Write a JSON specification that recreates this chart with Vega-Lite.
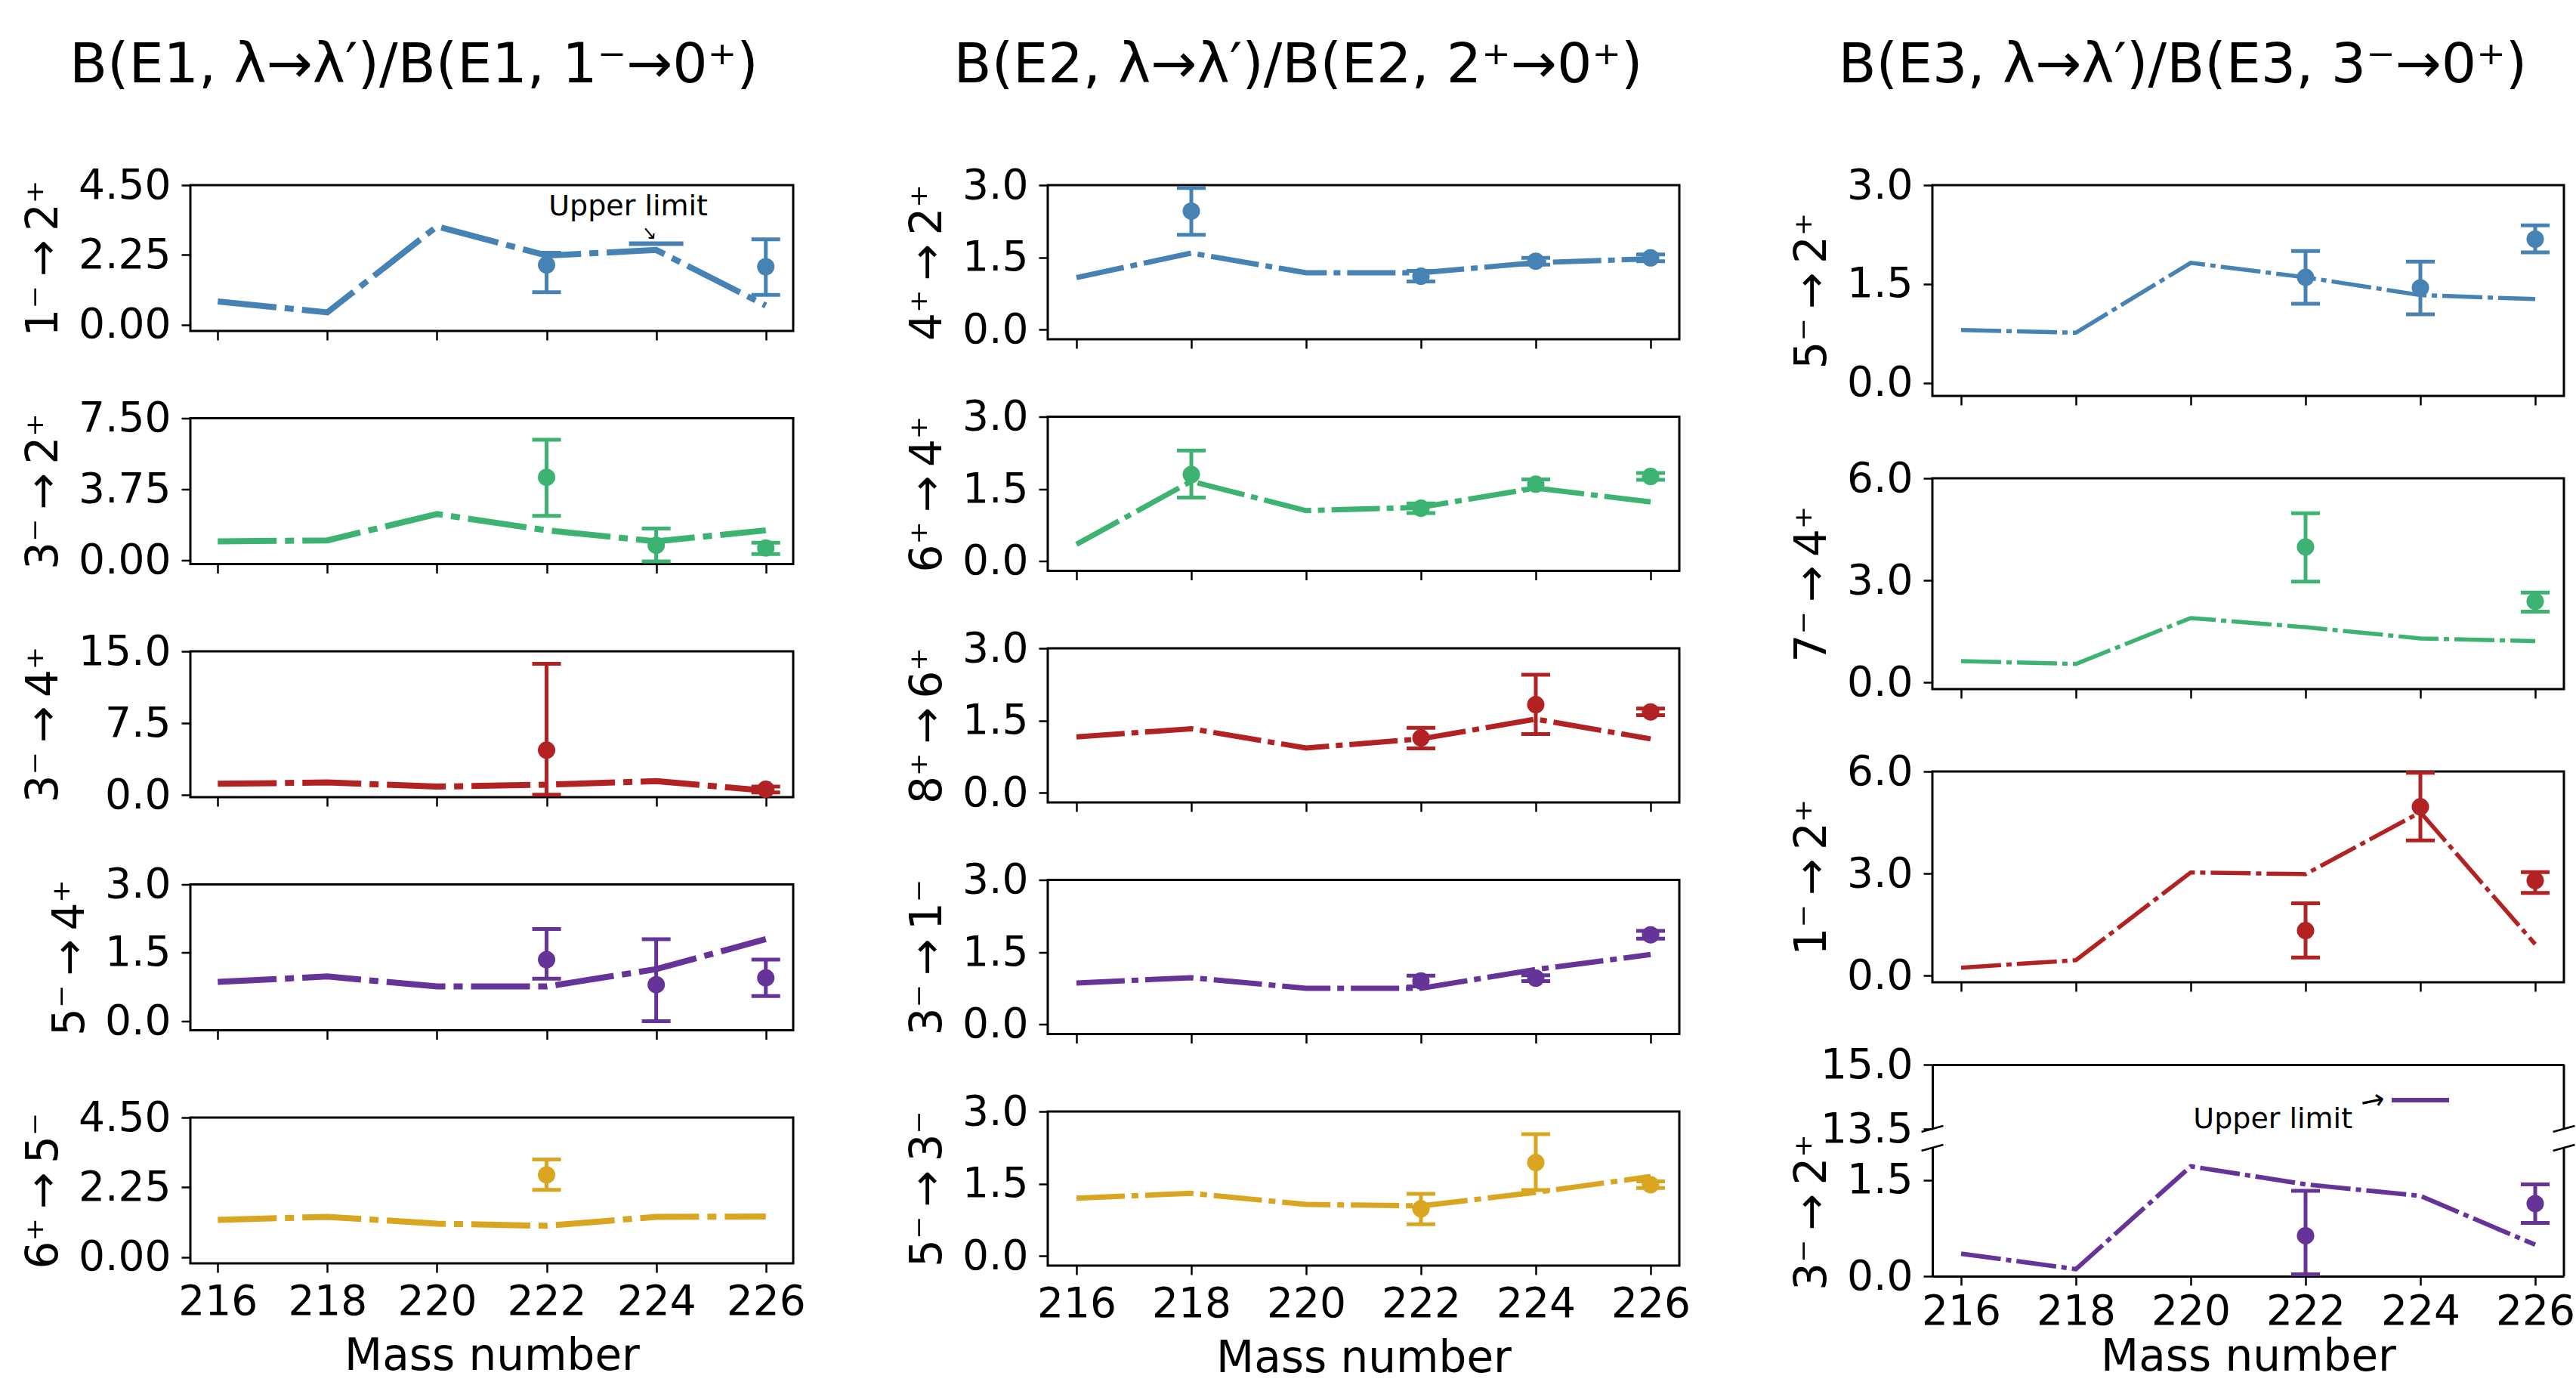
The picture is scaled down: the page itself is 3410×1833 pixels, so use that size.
{
"$schema":"https://vega.github.io/schema/vega-lite/v6.json",
"background":"white",
"padding":{"left":28,"top":50,"right":5,"bottom":0},
"datasets":{
"th":[
{"p":"E1a","A":216,"B":0.75},{"p":"E1a","A":218,"B":0.40},{"p":"E1a","A":220,"B":3.17},{"p":"E1a","A":222,"B":2.23},{"p":"E1a","A":224,"B":2.41},{"p":"E1a","A":226,"B":0.62},
{"p":"E1b","A":216,"B":1.00},{"p":"E1b","A":218,"B":1.05},{"p":"E1b","A":220,"B":2.44},{"p":"E1b","A":222,"B":1.58},{"p":"E1b","A":224,"B":1.00},{"p":"E1b","A":226,"B":1.58},
{"p":"E1c","A":216,"B":1.19},{"p":"E1c","A":218,"B":1.33},{"p":"E1c","A":220,"B":0.90},{"p":"E1c","A":222,"B":1.10},{"p":"E1c","A":224,"B":1.47},{"p":"E1c","A":226,"B":0.48},
{"p":"E1d","A":216,"B":0.86},{"p":"E1d","A":218,"B":0.98},{"p":"E1d","A":220,"B":0.76},{"p":"E1d","A":222,"B":0.76},{"p":"E1d","A":224,"B":1.14},{"p":"E1d","A":226,"B":1.80},
{"p":"E1e","A":216,"B":1.20},{"p":"E1e","A":218,"B":1.30},{"p":"E1e","A":220,"B":1.08},{"p":"E1e","A":222,"B":1.01},{"p":"E1e","A":224,"B":1.30},{"p":"E1e","A":226,"B":1.31},
{"p":"E2a","A":216,"B":1.08},{"p":"E2a","A":218,"B":1.59},{"p":"E2a","A":220,"B":1.18},{"p":"E2a","A":222,"B":1.18},{"p":"E2a","A":224,"B":1.39},{"p":"E2a","A":226,"B":1.47},
{"p":"E2b","A":216,"B":0.35},{"p":"E2b","A":218,"B":1.66},{"p":"E2b","A":220,"B":1.05},{"p":"E2b","A":222,"B":1.12},{"p":"E2b","A":224,"B":1.52},{"p":"E2b","A":226,"B":1.23},
{"p":"E2c","A":216,"B":1.16},{"p":"E2c","A":218,"B":1.33},{"p":"E2c","A":220,"B":0.93},{"p":"E2c","A":222,"B":1.12},{"p":"E2c","A":224,"B":1.53},{"p":"E2c","A":226,"B":1.12},
{"p":"E2d","A":216,"B":0.86},{"p":"E2d","A":218,"B":0.97},{"p":"E2d","A":220,"B":0.75},{"p":"E2d","A":222,"B":0.75},{"p":"E2d","A":224,"B":1.14},{"p":"E2d","A":226,"B":1.45},
{"p":"E2e","A":216,"B":1.20},{"p":"E2e","A":218,"B":1.30},{"p":"E2e","A":220,"B":1.07},{"p":"E2e","A":222,"B":1.04},{"p":"E2e","A":224,"B":1.32},{"p":"E2e","A":226,"B":1.65},
{"p":"E3a","A":216,"B":0.80},{"p":"E3a","A":218,"B":0.76},{"p":"E3a","A":220,"B":1.82},{"p":"E3a","A":222,"B":1.60},{"p":"E3a","A":224,"B":1.33},{"p":"E3a","A":226,"B":1.27},
{"p":"E3b","A":216,"B":0.62},{"p":"E3b","A":218,"B":0.54},{"p":"E3b","A":220,"B":1.89},{"p":"E3b","A":222,"B":1.62},{"p":"E3b","A":224,"B":1.29},{"p":"E3b","A":226,"B":1.21},
{"p":"E3c","A":216,"B":0.23},{"p":"E3c","A":218,"B":0.45},{"p":"E3c","A":220,"B":3.03},{"p":"E3c","A":222,"B":2.98},{"p":"E3c","A":224,"B":4.80},{"p":"E3c","A":226,"B":0.92},
{"p":"E3d","A":216,"B":0.35},{"p":"E3d","A":218,"B":0.11},{"p":"E3d","A":220,"B":1.71},{"p":"E3d","A":222,"B":1.43},{"p":"E3d","A":224,"B":1.25},{"p":"E3d","A":226,"B":0.49}
],
"ex":[
{"p":"E1a","A":222,"B":1.93,"lo":1.05,"hi":2.32},{"p":"E1a","A":226,"B":1.87,"lo":0.96,"hi":2.75},
{"p":"E1b","A":222,"B":4.38,"lo":2.34,"hi":6.36},{"p":"E1b","A":224,"B":0.79,"lo":-0.06,"hi":1.68},{"p":"E1b","A":226,"B":0.65,"lo":0.33,"hi":0.93},
{"p":"E1c","A":222,"B":4.7,"lo":0.06,"hi":13.7},{"p":"E1c","A":226,"B":0.62,"lo":0.3,"hi":0.9},
{"p":"E1d","A":222,"B":1.35,"lo":0.93,"hi":2.02},{"p":"E1d","A":224,"B":0.80,"lo":0.0,"hi":1.80},{"p":"E1d","A":226,"B":0.95,"lo":0.55,"hi":1.35},
{"p":"E1e","A":222,"B":2.65,"lo":2.17,"hi":3.15},
{"p":"E2a","A":218,"B":2.46,"lo":1.97,"hi":2.94},{"p":"E2a","A":222,"B":1.11,"lo":1.0,"hi":1.22},{"p":"E2a","A":224,"B":1.42,"lo":1.35,"hi":1.49},{"p":"E2a","A":226,"B":1.49,"lo":1.42,"hi":1.56},
{"p":"E2b","A":218,"B":1.80,"lo":1.32,"hi":2.30},{"p":"E2b","A":222,"B":1.10,"lo":1.0,"hi":1.2},{"p":"E2b","A":224,"B":1.60,"lo":1.5,"hi":1.7},{"p":"E2b","A":226,"B":1.76,"lo":1.69,"hi":1.83},
{"p":"E2c","A":222,"B":1.14,"lo":0.92,"hi":1.35},{"p":"E2c","A":224,"B":1.83,"lo":1.22,"hi":2.45},{"p":"E2c","A":226,"B":1.68,"lo":1.61,"hi":1.75},
{"p":"E2d","A":222,"B":0.90,"lo":0.79,"hi":1.01},{"p":"E2d","A":224,"B":0.96,"lo":0.9,"hi":1.02},{"p":"E2d","A":226,"B":1.86,"lo":1.78,"hi":1.94},
{"p":"E2e","A":222,"B":0.98,"lo":0.66,"hi":1.29},{"p":"E2e","A":224,"B":1.94,"lo":1.37,"hi":2.53},{"p":"E2e","A":226,"B":1.48,"lo":1.41,"hi":1.55},
{"p":"E3a","A":222,"B":1.60,"lo":1.20,"hi":2.00},{"p":"E3a","A":224,"B":1.44,"lo":1.04,"hi":1.84},{"p":"E3a","A":226,"B":2.18,"lo":1.98,"hi":2.39},
{"p":"E3b","A":222,"B":3.98,"lo":2.96,"hi":4.97},{"p":"E3b","A":226,"B":2.38,"lo":2.08,"hi":2.64},
{"p":"E3c","A":222,"B":1.32,"lo":0.53,"hi":2.12},{"p":"E3c","A":224,"B":4.96,"lo":3.97,"hi":5.96},{"p":"E3c","A":226,"B":2.79,"lo":2.43,"hi":3.04},
{"p":"E3d","A":222,"B":0.63,"lo":0.03,"hi":1.33},{"p":"E3d","A":226,"B":1.13,"lo":0.83,"hi":1.43}
],
"ul":[{"p":"E1a","A":224,"B":2.61},{"p":"E3d","A":224,"B":14.17}]
},
"config":{
"font":"DejaVu Sans",
"view":{"stroke":"black","strokeWidth":3},
"axis":{"grid":false,"domain":false,"tickColor":"black","tickWidth":2.5,"tickSize":12,"labelFont":"DejaVu Sans","labelFontSize":55,"labelColor":"black","labelFlush":false,"labelOverlap":false,"titleFont":"DejaVu Sans","titleFontSize":58,"titleFontWeight":"normal","titleColor":"black"},
"axisX":{"labelPadding":12,"titlePadding":16},
"axisY":{"labelPadding":14,"titlePadding":16},
"title":{"font":"DejaVu Sans","fontSize":73,"fontWeight":"normal","color":"black","anchor":"middle","offset":93,"baseline":"bottom"}
},
"spacing":130,
"hconcat":[
{"title":{"text":"B(E1, λ→λ′)/B(E1, 1⁻→0⁺)"},"spacing":115.5,"bounds":"flush","vconcat":[
{"width":798,"height":193,
"layer":[
{"data":{"name":"th"},"transform":[{"filter":"datum.p=='E1a'"}],"mark":{"type":"line","color":"#4682b4","strokeWidth":8,"strokeDash":[78,11,12,11]},
"encoding":{"x":{"field":"A","type":"quantitative","scale":{"domain":[215.5,226.5],"nice":false},"axis":{"values":[216,218,220,222,224,226],"labels":false,"title":null}},"y":{"field":"B","type":"quantitative","scale":{"domain":[-0.2,4.5],"nice":false,"zero":false},"axis":{"values":[0,2.25,4.5],"format":".2f","title":"1⁻\u2009→\u20092⁺"}}}},
{"data":{"name":"ex"},"transform":[{"filter":"datum.p=='E1a'"}],"mark":{"type":"rule","color":"#4682b4","strokeWidth":5},
"encoding":{"x":{"field":"A","type":"quantitative","scale":{"domain":[215.5,226.5],"nice":false},"axis":{"values":[216,218,220,222,224,226],"labels":false,"title":null}},"y":{"field":"lo","type":"quantitative","scale":{"domain":[-0.2,4.5],"nice":false,"zero":false},"axis":{"values":[0,2.25,4.5],"format":".2f","title":"1⁻\u2009→\u20092⁺"}},"y2":{"field":"hi"}}},
{"data":{"name":"ex"},"transform":[{"filter":"datum.p=='E1a'"},{"fold":["lo","hi"],"as":["k","v"]}],"mark":{"type":"tick","orient":"horizontal","color":"#4682b4","size":38,"thickness":5,"opacity":1},
"encoding":{"x":{"field":"A","type":"quantitative","scale":{"domain":[215.5,226.5],"nice":false},"axis":{"values":[216,218,220,222,224,226],"labels":false,"title":null}},"y":{"field":"v","type":"quantitative","scale":{"domain":[-0.2,4.5],"nice":false,"zero":false},"axis":{"values":[0,2.25,4.5],"format":".2f","title":"1⁻\u2009→\u20092⁺"}}}},
{"data":{"name":"ex"},"transform":[{"filter":"datum.p=='E1a'"}],"mark":{"type":"point","shape":"circle","filled":true,"size":530,"color":"#4682b4","opacity":1},
"encoding":{"x":{"field":"A","type":"quantitative","scale":{"domain":[215.5,226.5],"nice":false},"axis":{"values":[216,218,220,222,224,226],"labels":false,"title":null}},"y":{"field":"B","type":"quantitative","scale":{"domain":[-0.2,4.5],"nice":false,"zero":false},"axis":{"values":[0,2.25,4.5],"format":".2f","title":"1⁻\u2009→\u20092⁺"}}}},
{"data":{"name":"ul"},"transform":[{"filter":"datum.p=='E1a'"}],"mark":{"type":"tick","orient":"horizontal","color":"#4682b4","size":72,"thickness":6,"opacity":1},
"encoding":{"x":{"field":"A","type":"quantitative","scale":{"domain":[215.5,226.5],"nice":false},"axis":{"values":[216,218,220,222,224,226],"labels":false,"title":null}},"y":{"field":"B","type":"quantitative","scale":{"domain":[-0.2,4.5],"nice":false,"zero":false},"axis":{"values":[0,2.25,4.5],"format":".2f","title":"1⁻\u2009→\u20092⁺"}}}},
{"data":{"values":[{}]},"mark":{"type":"text","text":"Upper limit","fontSize":38,"color":"black"},
"encoding":{"x":{"datum":223.49,"type":"quantitative","scale":{"domain":[215.5,226.5],"nice":false},"axis":{"values":[216,218,220,222,224,226],"labels":false,"title":null}},"y":{"datum":3.79,"type":"quantitative","scale":{"domain":[-0.2,4.5],"nice":false,"zero":false},"axis":{"values":[0,2.25,4.5],"format":".2f","title":"1⁻\u2009→\u20092⁺"}}}},
{"data":{"values":[{}]},"mark":{"type":"text","text":"→","fontSize":24,"angle":50,"color":"black"},
"encoding":{"x":{"datum":223.87,"type":"quantitative","scale":{"domain":[215.5,226.5],"nice":false},"axis":{"values":[216,218,220,222,224,226],"labels":false,"title":null}},"y":{"datum":2.93,"type":"quantitative","scale":{"domain":[-0.2,4.5],"nice":false,"zero":false},"axis":{"values":[0,2.25,4.5],"format":".2f","title":"1⁻\u2009→\u20092⁺"}}}}
]},
{"width":798,"height":193,
"layer":[
{"data":{"name":"th"},"transform":[{"filter":"datum.p=='E1b'"}],"mark":{"type":"line","color":"#3cb371","strokeWidth":8,"strokeDash":[78,11,12,11]},
"encoding":{"x":{"field":"A","type":"quantitative","scale":{"domain":[215.5,226.5],"nice":false},"axis":{"values":[216,218,220,222,224,226],"labels":false,"title":null}},"y":{"field":"B","type":"quantitative","scale":{"domain":[-0.2,7.5],"nice":false,"zero":false},"axis":{"values":[0,3.75,7.5],"format":".2f","title":"3⁻\u2009→\u20092⁺"}}}},
{"data":{"name":"ex"},"transform":[{"filter":"datum.p=='E1b'"}],"mark":{"type":"rule","color":"#3cb371","strokeWidth":5},
"encoding":{"x":{"field":"A","type":"quantitative","scale":{"domain":[215.5,226.5],"nice":false},"axis":{"values":[216,218,220,222,224,226],"labels":false,"title":null}},"y":{"field":"lo","type":"quantitative","scale":{"domain":[-0.2,7.5],"nice":false,"zero":false},"axis":{"values":[0,3.75,7.5],"format":".2f","title":"3⁻\u2009→\u20092⁺"}},"y2":{"field":"hi"}}},
{"data":{"name":"ex"},"transform":[{"filter":"datum.p=='E1b'"},{"fold":["lo","hi"],"as":["k","v"]}],"mark":{"type":"tick","orient":"horizontal","color":"#3cb371","size":38,"thickness":5,"opacity":1},
"encoding":{"x":{"field":"A","type":"quantitative","scale":{"domain":[215.5,226.5],"nice":false},"axis":{"values":[216,218,220,222,224,226],"labels":false,"title":null}},"y":{"field":"v","type":"quantitative","scale":{"domain":[-0.2,7.5],"nice":false,"zero":false},"axis":{"values":[0,3.75,7.5],"format":".2f","title":"3⁻\u2009→\u20092⁺"}}}},
{"data":{"name":"ex"},"transform":[{"filter":"datum.p=='E1b'"}],"mark":{"type":"point","shape":"circle","filled":true,"size":530,"color":"#3cb371","opacity":1},
"encoding":{"x":{"field":"A","type":"quantitative","scale":{"domain":[215.5,226.5],"nice":false},"axis":{"values":[216,218,220,222,224,226],"labels":false,"title":null}},"y":{"field":"B","type":"quantitative","scale":{"domain":[-0.2,7.5],"nice":false,"zero":false},"axis":{"values":[0,3.75,7.5],"format":".2f","title":"3⁻\u2009→\u20092⁺"}}}}
]},
{"width":798,"height":193,
"layer":[
{"data":{"name":"th"},"transform":[{"filter":"datum.p=='E1c'"}],"mark":{"type":"line","color":"#b22222","strokeWidth":8,"strokeDash":[78,11,12,11]},
"encoding":{"x":{"field":"A","type":"quantitative","scale":{"domain":[215.5,226.5],"nice":false},"axis":{"values":[216,218,220,222,224,226],"labels":false,"title":null}},"y":{"field":"B","type":"quantitative","scale":{"domain":[-0.2,15],"nice":false,"zero":false},"axis":{"values":[0,7.5,15],"format":".1f","title":"3⁻\u2009→\u20094⁺"}}}},
{"data":{"name":"ex"},"transform":[{"filter":"datum.p=='E1c'"}],"mark":{"type":"rule","color":"#b22222","strokeWidth":5},
"encoding":{"x":{"field":"A","type":"quantitative","scale":{"domain":[215.5,226.5],"nice":false},"axis":{"values":[216,218,220,222,224,226],"labels":false,"title":null}},"y":{"field":"lo","type":"quantitative","scale":{"domain":[-0.2,15],"nice":false,"zero":false},"axis":{"values":[0,7.5,15],"format":".1f","title":"3⁻\u2009→\u20094⁺"}},"y2":{"field":"hi"}}},
{"data":{"name":"ex"},"transform":[{"filter":"datum.p=='E1c'"},{"fold":["lo","hi"],"as":["k","v"]}],"mark":{"type":"tick","orient":"horizontal","color":"#b22222","size":38,"thickness":5,"opacity":1},
"encoding":{"x":{"field":"A","type":"quantitative","scale":{"domain":[215.5,226.5],"nice":false},"axis":{"values":[216,218,220,222,224,226],"labels":false,"title":null}},"y":{"field":"v","type":"quantitative","scale":{"domain":[-0.2,15],"nice":false,"zero":false},"axis":{"values":[0,7.5,15],"format":".1f","title":"3⁻\u2009→\u20094⁺"}}}},
{"data":{"name":"ex"},"transform":[{"filter":"datum.p=='E1c'"}],"mark":{"type":"point","shape":"circle","filled":true,"size":530,"color":"#b22222","opacity":1},
"encoding":{"x":{"field":"A","type":"quantitative","scale":{"domain":[215.5,226.5],"nice":false},"axis":{"values":[216,218,220,222,224,226],"labels":false,"title":null}},"y":{"field":"B","type":"quantitative","scale":{"domain":[-0.2,15],"nice":false,"zero":false},"axis":{"values":[0,7.5,15],"format":".1f","title":"3⁻\u2009→\u20094⁺"}}}}
]},
{"width":798,"height":193,
"layer":[
{"data":{"name":"th"},"transform":[{"filter":"datum.p=='E1d'"}],"mark":{"type":"line","color":"#663399","strokeWidth":8,"strokeDash":[78,11,12,11]},
"encoding":{"x":{"field":"A","type":"quantitative","scale":{"domain":[215.5,226.5],"nice":false},"axis":{"values":[216,218,220,222,224,226],"labels":false,"title":null}},"y":{"field":"B","type":"quantitative","scale":{"domain":[-0.2,3],"nice":false,"zero":false},"axis":{"values":[0,1.5,3],"format":".1f","title":"5⁻\u2009→\u20094⁺"}}}},
{"data":{"name":"ex"},"transform":[{"filter":"datum.p=='E1d'"}],"mark":{"type":"rule","color":"#663399","strokeWidth":5},
"encoding":{"x":{"field":"A","type":"quantitative","scale":{"domain":[215.5,226.5],"nice":false},"axis":{"values":[216,218,220,222,224,226],"labels":false,"title":null}},"y":{"field":"lo","type":"quantitative","scale":{"domain":[-0.2,3],"nice":false,"zero":false},"axis":{"values":[0,1.5,3],"format":".1f","title":"5⁻\u2009→\u20094⁺"}},"y2":{"field":"hi"}}},
{"data":{"name":"ex"},"transform":[{"filter":"datum.p=='E1d'"},{"fold":["lo","hi"],"as":["k","v"]}],"mark":{"type":"tick","orient":"horizontal","color":"#663399","size":38,"thickness":5,"opacity":1},
"encoding":{"x":{"field":"A","type":"quantitative","scale":{"domain":[215.5,226.5],"nice":false},"axis":{"values":[216,218,220,222,224,226],"labels":false,"title":null}},"y":{"field":"v","type":"quantitative","scale":{"domain":[-0.2,3],"nice":false,"zero":false},"axis":{"values":[0,1.5,3],"format":".1f","title":"5⁻\u2009→\u20094⁺"}}}},
{"data":{"name":"ex"},"transform":[{"filter":"datum.p=='E1d'"}],"mark":{"type":"point","shape":"circle","filled":true,"size":530,"color":"#663399","opacity":1},
"encoding":{"x":{"field":"A","type":"quantitative","scale":{"domain":[215.5,226.5],"nice":false},"axis":{"values":[216,218,220,222,224,226],"labels":false,"title":null}},"y":{"field":"B","type":"quantitative","scale":{"domain":[-0.2,3],"nice":false,"zero":false},"axis":{"values":[0,1.5,3],"format":".1f","title":"5⁻\u2009→\u20094⁺"}}}}
]},
{"width":798,"height":193,
"layer":[
{"data":{"name":"th"},"transform":[{"filter":"datum.p=='E1e'"}],"mark":{"type":"line","color":"#daa520","strokeWidth":8,"strokeDash":[78,11,12,11]},
"encoding":{"x":{"field":"A","type":"quantitative","scale":{"domain":[215.5,226.5],"nice":false},"axis":{"values":[216,218,220,222,224,226],"format":"d","title":"Mass number"}},"y":{"field":"B","type":"quantitative","scale":{"domain":[-0.2,4.5],"nice":false,"zero":false},"axis":{"values":[0,2.25,4.5],"format":".2f","title":"6⁺\u2009→\u20095⁻"}}}},
{"data":{"name":"ex"},"transform":[{"filter":"datum.p=='E1e'"}],"mark":{"type":"rule","color":"#daa520","strokeWidth":5},
"encoding":{"x":{"field":"A","type":"quantitative","scale":{"domain":[215.5,226.5],"nice":false},"axis":{"values":[216,218,220,222,224,226],"format":"d","title":"Mass number"}},"y":{"field":"lo","type":"quantitative","scale":{"domain":[-0.2,4.5],"nice":false,"zero":false},"axis":{"values":[0,2.25,4.5],"format":".2f","title":"6⁺\u2009→\u20095⁻"}},"y2":{"field":"hi"}}},
{"data":{"name":"ex"},"transform":[{"filter":"datum.p=='E1e'"},{"fold":["lo","hi"],"as":["k","v"]}],"mark":{"type":"tick","orient":"horizontal","color":"#daa520","size":38,"thickness":5,"opacity":1},
"encoding":{"x":{"field":"A","type":"quantitative","scale":{"domain":[215.5,226.5],"nice":false},"axis":{"values":[216,218,220,222,224,226],"format":"d","title":"Mass number"}},"y":{"field":"v","type":"quantitative","scale":{"domain":[-0.2,4.5],"nice":false,"zero":false},"axis":{"values":[0,2.25,4.5],"format":".2f","title":"6⁺\u2009→\u20095⁻"}}}},
{"data":{"name":"ex"},"transform":[{"filter":"datum.p=='E1e'"}],"mark":{"type":"point","shape":"circle","filled":true,"size":530,"color":"#daa520","opacity":1},
"encoding":{"x":{"field":"A","type":"quantitative","scale":{"domain":[215.5,226.5],"nice":false},"axis":{"values":[216,218,220,222,224,226],"format":"d","title":"Mass number"}},"y":{"field":"B","type":"quantitative","scale":{"domain":[-0.2,4.5],"nice":false,"zero":false},"axis":{"values":[0,2.25,4.5],"format":".2f","title":"6⁺\u2009→\u20095⁻"}}}}
]}
]},
{"title":{"text":"B(E2, λ→λ′)/B(E2, 2⁺→0⁺)"},"spacing":102.5,"bounds":"flush","vconcat":[
{"width":836,"height":204,
"layer":[
{"data":{"name":"th"},"transform":[{"filter":"datum.p=='E2a'"}],"mark":{"type":"line","color":"#4682b4","strokeWidth":7,"strokeDash":[64,9,9,9]},
"encoding":{"x":{"field":"A","type":"quantitative","scale":{"domain":[215.5,226.5],"nice":false},"axis":{"values":[216,218,220,222,224,226],"labels":false,"title":null}},"y":{"field":"B","type":"quantitative","scale":{"domain":[-0.2,3],"nice":false,"zero":false},"axis":{"values":[0,1.5,3],"format":".1f","title":"4⁺\u2009→\u20092⁺"}}}},
{"data":{"name":"ex"},"transform":[{"filter":"datum.p=='E2a'"}],"mark":{"type":"rule","color":"#4682b4","strokeWidth":5},
"encoding":{"x":{"field":"A","type":"quantitative","scale":{"domain":[215.5,226.5],"nice":false},"axis":{"values":[216,218,220,222,224,226],"labels":false,"title":null}},"y":{"field":"lo","type":"quantitative","scale":{"domain":[-0.2,3],"nice":false,"zero":false},"axis":{"values":[0,1.5,3],"format":".1f","title":"4⁺\u2009→\u20092⁺"}},"y2":{"field":"hi"}}},
{"data":{"name":"ex"},"transform":[{"filter":"datum.p=='E2a'"},{"fold":["lo","hi"],"as":["k","v"]}],"mark":{"type":"tick","orient":"horizontal","color":"#4682b4","size":38,"thickness":5,"opacity":1},
"encoding":{"x":{"field":"A","type":"quantitative","scale":{"domain":[215.5,226.5],"nice":false},"axis":{"values":[216,218,220,222,224,226],"labels":false,"title":null}},"y":{"field":"v","type":"quantitative","scale":{"domain":[-0.2,3],"nice":false,"zero":false},"axis":{"values":[0,1.5,3],"format":".1f","title":"4⁺\u2009→\u20092⁺"}}}},
{"data":{"name":"ex"},"transform":[{"filter":"datum.p=='E2a'"}],"mark":{"type":"point","shape":"circle","filled":true,"size":530,"color":"#4682b4","opacity":1},
"encoding":{"x":{"field":"A","type":"quantitative","scale":{"domain":[215.5,226.5],"nice":false},"axis":{"values":[216,218,220,222,224,226],"labels":false,"title":null}},"y":{"field":"B","type":"quantitative","scale":{"domain":[-0.2,3],"nice":false,"zero":false},"axis":{"values":[0,1.5,3],"format":".1f","title":"4⁺\u2009→\u20092⁺"}}}}
]},
{"width":836,"height":204,
"layer":[
{"data":{"name":"th"},"transform":[{"filter":"datum.p=='E2b'"}],"mark":{"type":"line","color":"#3cb371","strokeWidth":7,"strokeDash":[64,9,9,9]},
"encoding":{"x":{"field":"A","type":"quantitative","scale":{"domain":[215.5,226.5],"nice":false},"axis":{"values":[216,218,220,222,224,226],"labels":false,"title":null}},"y":{"field":"B","type":"quantitative","scale":{"domain":[-0.2,3],"nice":false,"zero":false},"axis":{"values":[0,1.5,3],"format":".1f","title":"6⁺\u2009→\u20094⁺"}}}},
{"data":{"name":"ex"},"transform":[{"filter":"datum.p=='E2b'"}],"mark":{"type":"rule","color":"#3cb371","strokeWidth":5},
"encoding":{"x":{"field":"A","type":"quantitative","scale":{"domain":[215.5,226.5],"nice":false},"axis":{"values":[216,218,220,222,224,226],"labels":false,"title":null}},"y":{"field":"lo","type":"quantitative","scale":{"domain":[-0.2,3],"nice":false,"zero":false},"axis":{"values":[0,1.5,3],"format":".1f","title":"6⁺\u2009→\u20094⁺"}},"y2":{"field":"hi"}}},
{"data":{"name":"ex"},"transform":[{"filter":"datum.p=='E2b'"},{"fold":["lo","hi"],"as":["k","v"]}],"mark":{"type":"tick","orient":"horizontal","color":"#3cb371","size":38,"thickness":5,"opacity":1},
"encoding":{"x":{"field":"A","type":"quantitative","scale":{"domain":[215.5,226.5],"nice":false},"axis":{"values":[216,218,220,222,224,226],"labels":false,"title":null}},"y":{"field":"v","type":"quantitative","scale":{"domain":[-0.2,3],"nice":false,"zero":false},"axis":{"values":[0,1.5,3],"format":".1f","title":"6⁺\u2009→\u20094⁺"}}}},
{"data":{"name":"ex"},"transform":[{"filter":"datum.p=='E2b'"}],"mark":{"type":"point","shape":"circle","filled":true,"size":530,"color":"#3cb371","opacity":1},
"encoding":{"x":{"field":"A","type":"quantitative","scale":{"domain":[215.5,226.5],"nice":false},"axis":{"values":[216,218,220,222,224,226],"labels":false,"title":null}},"y":{"field":"B","type":"quantitative","scale":{"domain":[-0.2,3],"nice":false,"zero":false},"axis":{"values":[0,1.5,3],"format":".1f","title":"6⁺\u2009→\u20094⁺"}}}}
]},
{"width":836,"height":204,
"layer":[
{"data":{"name":"th"},"transform":[{"filter":"datum.p=='E2c'"}],"mark":{"type":"line","color":"#b22222","strokeWidth":7,"strokeDash":[64,9,9,9]},
"encoding":{"x":{"field":"A","type":"quantitative","scale":{"domain":[215.5,226.5],"nice":false},"axis":{"values":[216,218,220,222,224,226],"labels":false,"title":null}},"y":{"field":"B","type":"quantitative","scale":{"domain":[-0.2,3],"nice":false,"zero":false},"axis":{"values":[0,1.5,3],"format":".1f","title":"8⁺\u2009→\u20096⁺"}}}},
{"data":{"name":"ex"},"transform":[{"filter":"datum.p=='E2c'"}],"mark":{"type":"rule","color":"#b22222","strokeWidth":5},
"encoding":{"x":{"field":"A","type":"quantitative","scale":{"domain":[215.5,226.5],"nice":false},"axis":{"values":[216,218,220,222,224,226],"labels":false,"title":null}},"y":{"field":"lo","type":"quantitative","scale":{"domain":[-0.2,3],"nice":false,"zero":false},"axis":{"values":[0,1.5,3],"format":".1f","title":"8⁺\u2009→\u20096⁺"}},"y2":{"field":"hi"}}},
{"data":{"name":"ex"},"transform":[{"filter":"datum.p=='E2c'"},{"fold":["lo","hi"],"as":["k","v"]}],"mark":{"type":"tick","orient":"horizontal","color":"#b22222","size":38,"thickness":5,"opacity":1},
"encoding":{"x":{"field":"A","type":"quantitative","scale":{"domain":[215.5,226.5],"nice":false},"axis":{"values":[216,218,220,222,224,226],"labels":false,"title":null}},"y":{"field":"v","type":"quantitative","scale":{"domain":[-0.2,3],"nice":false,"zero":false},"axis":{"values":[0,1.5,3],"format":".1f","title":"8⁺\u2009→\u20096⁺"}}}},
{"data":{"name":"ex"},"transform":[{"filter":"datum.p=='E2c'"}],"mark":{"type":"point","shape":"circle","filled":true,"size":530,"color":"#b22222","opacity":1},
"encoding":{"x":{"field":"A","type":"quantitative","scale":{"domain":[215.5,226.5],"nice":false},"axis":{"values":[216,218,220,222,224,226],"labels":false,"title":null}},"y":{"field":"B","type":"quantitative","scale":{"domain":[-0.2,3],"nice":false,"zero":false},"axis":{"values":[0,1.5,3],"format":".1f","title":"8⁺\u2009→\u20096⁺"}}}}
]},
{"width":836,"height":204,
"layer":[
{"data":{"name":"th"},"transform":[{"filter":"datum.p=='E2d'"}],"mark":{"type":"line","color":"#663399","strokeWidth":7,"strokeDash":[64,9,9,9]},
"encoding":{"x":{"field":"A","type":"quantitative","scale":{"domain":[215.5,226.5],"nice":false},"axis":{"values":[216,218,220,222,224,226],"labels":false,"title":null}},"y":{"field":"B","type":"quantitative","scale":{"domain":[-0.2,3],"nice":false,"zero":false},"axis":{"values":[0,1.5,3],"format":".1f","title":"3⁻\u2009→\u20091⁻"}}}},
{"data":{"name":"ex"},"transform":[{"filter":"datum.p=='E2d'"}],"mark":{"type":"rule","color":"#663399","strokeWidth":5},
"encoding":{"x":{"field":"A","type":"quantitative","scale":{"domain":[215.5,226.5],"nice":false},"axis":{"values":[216,218,220,222,224,226],"labels":false,"title":null}},"y":{"field":"lo","type":"quantitative","scale":{"domain":[-0.2,3],"nice":false,"zero":false},"axis":{"values":[0,1.5,3],"format":".1f","title":"3⁻\u2009→\u20091⁻"}},"y2":{"field":"hi"}}},
{"data":{"name":"ex"},"transform":[{"filter":"datum.p=='E2d'"},{"fold":["lo","hi"],"as":["k","v"]}],"mark":{"type":"tick","orient":"horizontal","color":"#663399","size":38,"thickness":5,"opacity":1},
"encoding":{"x":{"field":"A","type":"quantitative","scale":{"domain":[215.5,226.5],"nice":false},"axis":{"values":[216,218,220,222,224,226],"labels":false,"title":null}},"y":{"field":"v","type":"quantitative","scale":{"domain":[-0.2,3],"nice":false,"zero":false},"axis":{"values":[0,1.5,3],"format":".1f","title":"3⁻\u2009→\u20091⁻"}}}},
{"data":{"name":"ex"},"transform":[{"filter":"datum.p=='E2d'"}],"mark":{"type":"point","shape":"circle","filled":true,"size":530,"color":"#663399","opacity":1},
"encoding":{"x":{"field":"A","type":"quantitative","scale":{"domain":[215.5,226.5],"nice":false},"axis":{"values":[216,218,220,222,224,226],"labels":false,"title":null}},"y":{"field":"B","type":"quantitative","scale":{"domain":[-0.2,3],"nice":false,"zero":false},"axis":{"values":[0,1.5,3],"format":".1f","title":"3⁻\u2009→\u20091⁻"}}}}
]},
{"width":836,"height":204,
"layer":[
{"data":{"name":"th"},"transform":[{"filter":"datum.p=='E2e'"}],"mark":{"type":"line","color":"#daa520","strokeWidth":7,"strokeDash":[64,9,9,9]},
"encoding":{"x":{"field":"A","type":"quantitative","scale":{"domain":[215.5,226.5],"nice":false},"axis":{"values":[216,218,220,222,224,226],"format":"d","title":"Mass number"}},"y":{"field":"B","type":"quantitative","scale":{"domain":[-0.2,3],"nice":false,"zero":false},"axis":{"values":[0,1.5,3],"format":".1f","title":"5⁻\u2009→\u20093⁻"}}}},
{"data":{"name":"ex"},"transform":[{"filter":"datum.p=='E2e'"}],"mark":{"type":"rule","color":"#daa520","strokeWidth":5},
"encoding":{"x":{"field":"A","type":"quantitative","scale":{"domain":[215.5,226.5],"nice":false},"axis":{"values":[216,218,220,222,224,226],"format":"d","title":"Mass number"}},"y":{"field":"lo","type":"quantitative","scale":{"domain":[-0.2,3],"nice":false,"zero":false},"axis":{"values":[0,1.5,3],"format":".1f","title":"5⁻\u2009→\u20093⁻"}},"y2":{"field":"hi"}}},
{"data":{"name":"ex"},"transform":[{"filter":"datum.p=='E2e'"},{"fold":["lo","hi"],"as":["k","v"]}],"mark":{"type":"tick","orient":"horizontal","color":"#daa520","size":38,"thickness":5,"opacity":1},
"encoding":{"x":{"field":"A","type":"quantitative","scale":{"domain":[215.5,226.5],"nice":false},"axis":{"values":[216,218,220,222,224,226],"format":"d","title":"Mass number"}},"y":{"field":"v","type":"quantitative","scale":{"domain":[-0.2,3],"nice":false,"zero":false},"axis":{"values":[0,1.5,3],"format":".1f","title":"5⁻\u2009→\u20093⁻"}}}},
{"data":{"name":"ex"},"transform":[{"filter":"datum.p=='E2e'"}],"mark":{"type":"point","shape":"circle","filled":true,"size":530,"color":"#daa520","opacity":1},
"encoding":{"x":{"field":"A","type":"quantitative","scale":{"domain":[215.5,226.5],"nice":false},"axis":{"values":[216,218,220,222,224,226],"format":"d","title":"Mass number"}},"y":{"field":"B","type":"quantitative","scale":{"domain":[-0.2,3],"nice":false,"zero":false},"axis":{"values":[0,1.5,3],"format":".1f","title":"5⁻\u2009→\u20093⁻"}}}}
]}
]},
{"title":{"text":"B(E3, λ→λ′)/B(E3, 3⁻→0⁺)"},"spacing":109,"bounds":"flush","vconcat":[
{"width":836,"height":279,
"layer":[
{"data":{"name":"th"},"transform":[{"filter":"datum.p=='E3a'"}],"mark":{"type":"line","color":"#4682b4","strokeWidth":5.5,"strokeDash":[53,7,7,7]},
"encoding":{"x":{"field":"A","type":"quantitative","scale":{"domain":[215.5,226.5],"nice":false},"axis":{"values":[216,218,220,222,224,226],"labels":false,"title":null}},"y":{"field":"B","type":"quantitative","scale":{"domain":[-0.2,3],"nice":false,"zero":false},"axis":{"values":[0,1.5,3],"format":".1f","title":"5⁻\u2009→\u20092⁺"}}}},
{"data":{"name":"ex"},"transform":[{"filter":"datum.p=='E3a'"}],"mark":{"type":"rule","color":"#4682b4","strokeWidth":5},
"encoding":{"x":{"field":"A","type":"quantitative","scale":{"domain":[215.5,226.5],"nice":false},"axis":{"values":[216,218,220,222,224,226],"labels":false,"title":null}},"y":{"field":"lo","type":"quantitative","scale":{"domain":[-0.2,3],"nice":false,"zero":false},"axis":{"values":[0,1.5,3],"format":".1f","title":"5⁻\u2009→\u20092⁺"}},"y2":{"field":"hi"}}},
{"data":{"name":"ex"},"transform":[{"filter":"datum.p=='E3a'"},{"fold":["lo","hi"],"as":["k","v"]}],"mark":{"type":"tick","orient":"horizontal","color":"#4682b4","size":38,"thickness":5,"opacity":1},
"encoding":{"x":{"field":"A","type":"quantitative","scale":{"domain":[215.5,226.5],"nice":false},"axis":{"values":[216,218,220,222,224,226],"labels":false,"title":null}},"y":{"field":"v","type":"quantitative","scale":{"domain":[-0.2,3],"nice":false,"zero":false},"axis":{"values":[0,1.5,3],"format":".1f","title":"5⁻\u2009→\u20092⁺"}}}},
{"data":{"name":"ex"},"transform":[{"filter":"datum.p=='E3a'"}],"mark":{"type":"point","shape":"circle","filled":true,"size":530,"color":"#4682b4","opacity":1},
"encoding":{"x":{"field":"A","type":"quantitative","scale":{"domain":[215.5,226.5],"nice":false},"axis":{"values":[216,218,220,222,224,226],"labels":false,"title":null}},"y":{"field":"B","type":"quantitative","scale":{"domain":[-0.2,3],"nice":false,"zero":false},"axis":{"values":[0,1.5,3],"format":".1f","title":"5⁻\u2009→\u20092⁺"}}}}
]},
{"width":836,"height":279,
"layer":[
{"data":{"name":"th"},"transform":[{"filter":"datum.p=='E3b'"}],"mark":{"type":"line","color":"#3cb371","strokeWidth":5.5,"strokeDash":[53,7,7,7]},
"encoding":{"x":{"field":"A","type":"quantitative","scale":{"domain":[215.5,226.5],"nice":false},"axis":{"values":[216,218,220,222,224,226],"labels":false,"title":null}},"y":{"field":"B","type":"quantitative","scale":{"domain":[-0.2,6],"nice":false,"zero":false},"axis":{"values":[0,3,6],"format":".1f","title":"7⁻\u2009→\u20094⁺"}}}},
{"data":{"name":"ex"},"transform":[{"filter":"datum.p=='E3b'"}],"mark":{"type":"rule","color":"#3cb371","strokeWidth":5},
"encoding":{"x":{"field":"A","type":"quantitative","scale":{"domain":[215.5,226.5],"nice":false},"axis":{"values":[216,218,220,222,224,226],"labels":false,"title":null}},"y":{"field":"lo","type":"quantitative","scale":{"domain":[-0.2,6],"nice":false,"zero":false},"axis":{"values":[0,3,6],"format":".1f","title":"7⁻\u2009→\u20094⁺"}},"y2":{"field":"hi"}}},
{"data":{"name":"ex"},"transform":[{"filter":"datum.p=='E3b'"},{"fold":["lo","hi"],"as":["k","v"]}],"mark":{"type":"tick","orient":"horizontal","color":"#3cb371","size":38,"thickness":5,"opacity":1},
"encoding":{"x":{"field":"A","type":"quantitative","scale":{"domain":[215.5,226.5],"nice":false},"axis":{"values":[216,218,220,222,224,226],"labels":false,"title":null}},"y":{"field":"v","type":"quantitative","scale":{"domain":[-0.2,6],"nice":false,"zero":false},"axis":{"values":[0,3,6],"format":".1f","title":"7⁻\u2009→\u20094⁺"}}}},
{"data":{"name":"ex"},"transform":[{"filter":"datum.p=='E3b'"}],"mark":{"type":"point","shape":"circle","filled":true,"size":530,"color":"#3cb371","opacity":1},
"encoding":{"x":{"field":"A","type":"quantitative","scale":{"domain":[215.5,226.5],"nice":false},"axis":{"values":[216,218,220,222,224,226],"labels":false,"title":null}},"y":{"field":"B","type":"quantitative","scale":{"domain":[-0.2,6],"nice":false,"zero":false},"axis":{"values":[0,3,6],"format":".1f","title":"7⁻\u2009→\u20094⁺"}}}}
]},
{"width":836,"height":279,
"layer":[
{"data":{"name":"th"},"transform":[{"filter":"datum.p=='E3c'"}],"mark":{"type":"line","color":"#b22222","strokeWidth":5.5,"strokeDash":[53,7,7,7]},
"encoding":{"x":{"field":"A","type":"quantitative","scale":{"domain":[215.5,226.5],"nice":false},"axis":{"values":[216,218,220,222,224,226],"labels":false,"title":null}},"y":{"field":"B","type":"quantitative","scale":{"domain":[-0.2,6],"nice":false,"zero":false},"axis":{"values":[0,3,6],"format":".1f","title":"1⁻\u2009→\u20092⁺"}}}},
{"data":{"name":"ex"},"transform":[{"filter":"datum.p=='E3c'"}],"mark":{"type":"rule","color":"#b22222","strokeWidth":5},
"encoding":{"x":{"field":"A","type":"quantitative","scale":{"domain":[215.5,226.5],"nice":false},"axis":{"values":[216,218,220,222,224,226],"labels":false,"title":null}},"y":{"field":"lo","type":"quantitative","scale":{"domain":[-0.2,6],"nice":false,"zero":false},"axis":{"values":[0,3,6],"format":".1f","title":"1⁻\u2009→\u20092⁺"}},"y2":{"field":"hi"}}},
{"data":{"name":"ex"},"transform":[{"filter":"datum.p=='E3c'"},{"fold":["lo","hi"],"as":["k","v"]}],"mark":{"type":"tick","orient":"horizontal","color":"#b22222","size":38,"thickness":5,"opacity":1},
"encoding":{"x":{"field":"A","type":"quantitative","scale":{"domain":[215.5,226.5],"nice":false},"axis":{"values":[216,218,220,222,224,226],"labels":false,"title":null}},"y":{"field":"v","type":"quantitative","scale":{"domain":[-0.2,6],"nice":false,"zero":false},"axis":{"values":[0,3,6],"format":".1f","title":"1⁻\u2009→\u20092⁺"}}}},
{"data":{"name":"ex"},"transform":[{"filter":"datum.p=='E3c'"}],"mark":{"type":"point","shape":"circle","filled":true,"size":530,"color":"#b22222","opacity":1},
"encoding":{"x":{"field":"A","type":"quantitative","scale":{"domain":[215.5,226.5],"nice":false},"axis":{"values":[216,218,220,222,224,226],"labels":false,"title":null}},"y":{"field":"B","type":"quantitative","scale":{"domain":[-0.2,6],"nice":false,"zero":false},"axis":{"values":[0,3,6],"format":".1f","title":"1⁻\u2009→\u20092⁺"}}}}
]},
{"spacing":25,"bounds":"flush","vconcat":[
{"width":836,"height":85,"view":{"stroke":null},
"layer":[
{"data":{"name":"ul"},"transform":[{"filter":"datum.p=='E3d'"}],"mark":{"type":"tick","orient":"horizontal","color":"#663399","size":76,"thickness":6,"opacity":1},
"encoding":{"x":{"field":"A","type":"quantitative","scale":{"domain":[215.5,226.5],"nice":false,"zero":false},"axis":{"orient":"top","values":[216],"ticks":false,"labels":false,"title":null,"domain":true,"domainColor":"black","domainWidth":3}},"y":{"field":"B","type":"quantitative","scale":{"domain":[13.5,15],"nice":false,"zero":false},"axis":{"values":[13.5,15],"format":".1f","title":null,"domain":true,"domainColor":"black","domainWidth":3}}}},
{"data":{"values":[{}]},"mark":{"type":"text","text":"Upper limit","fontSize":38,"color":"black"},
"encoding":{"x":{"datum":221.43,"type":"quantitative","scale":{"domain":[215.5,226.5],"nice":false,"zero":false},"axis":{"orient":"top","values":[216],"ticks":false,"labels":false,"title":null,"domain":true,"domainColor":"black","domainWidth":3}},"y":{"datum":13.71,"type":"quantitative","scale":{"domain":[13.5,15],"nice":false,"zero":false},"axis":{"values":[13.5,15],"format":".1f","title":null,"domain":true,"domainColor":"black","domainWidth":3}}}},
{"data":{"values":[{}]},"mark":{"type":"text","text":"→","fontSize":38,"angle":-12,"color":"black"},
"encoding":{"x":{"datum":223.17,"type":"quantitative","scale":{"domain":[215.5,226.5],"nice":false,"zero":false},"axis":{"orient":"top","values":[216],"ticks":false,"labels":false,"title":null,"domain":true,"domainColor":"black","domainWidth":3}},"y":{"datum":14.13,"type":"quantitative","scale":{"domain":[13.5,15],"nice":false,"zero":false},"axis":{"values":[13.5,15],"format":".1f","title":null,"domain":true,"domainColor":"black","domainWidth":3}}}},
{"data":{"values":[{}]},"mark":{"type":"rule","color":"black","strokeWidth":3},
"encoding":{"x":{"datum":226.5,"type":"quantitative","scale":{"domain":[215.5,226.5],"nice":false,"zero":false},"axis":{"orient":"top","values":[216],"ticks":false,"labels":false,"title":null,"domain":true,"domainColor":"black","domainWidth":3}},"y":{"datum":13.5,"type":"quantitative","scale":{"domain":[13.5,15],"nice":false,"zero":false},"axis":{"values":[13.5,15],"format":".1f","title":null,"domain":true,"domainColor":"black","domainWidth":3}},"y2":{"datum":15}}},
{"data":{"values":[{}]},"mark":{"type":"rule","color":"black","strokeWidth":2.5},
"encoding":{"x":{"datum":215.31,"type":"quantitative","scale":{"domain":[215.5,226.5],"nice":false,"zero":false},"axis":{"orient":"top","values":[216],"ticks":false,"labels":false,"title":null,"domain":true,"domainColor":"black","domainWidth":3}},"x2":{"datum":215.69},"y":{"datum":13.43,"type":"quantitative","scale":{"domain":[13.5,15],"nice":false,"zero":false},"axis":{"values":[13.5,15],"format":".1f","title":null,"domain":true,"domainColor":"black","domainWidth":3}},"y2":{"datum":13.57}}},
{"data":{"values":[{}]},"mark":{"type":"rule","color":"black","strokeWidth":2.5},
"encoding":{"x":{"datum":226.31,"type":"quantitative","scale":{"domain":[215.5,226.5],"nice":false,"zero":false},"axis":{"orient":"top","values":[216],"ticks":false,"labels":false,"title":null,"domain":true,"domainColor":"black","domainWidth":3}},"x2":{"datum":226.69},"y":{"datum":13.43,"type":"quantitative","scale":{"domain":[13.5,15],"nice":false,"zero":false},"axis":{"values":[13.5,15],"format":".1f","title":null,"domain":true,"domainColor":"black","domainWidth":3}},"y2":{"datum":13.57}}}
]},
{"width":836,"height":170,"view":{"stroke":null},
"layer":[
{"data":{"name":"th"},"transform":[{"filter":"datum.p=='E3d'"}],"mark":{"type":"line","color":"#663399","strokeWidth":6,"strokeDash":[53,7,7,7]},
"encoding":{"x":{"field":"A","type":"quantitative","scale":{"domain":[215.5,226.5],"nice":false,"zero":false},"axis":{"values":[216,218,220,222,224,226],"format":"d","title":"Mass number","labelPadding":8,"titlePadding":4,"domain":true,"domainColor":"black","domainWidth":3}},"y":{"field":"B","type":"quantitative","scale":{"domain":[0,2],"nice":false,"zero":false},"axis":{"values":[0,1.5],"format":".1f","title":"3⁻\u2009→\u20092⁺","domain":true,"domainColor":"black","domainWidth":3}}}},
{"data":{"name":"ex"},"transform":[{"filter":"datum.p=='E3d'"}],"mark":{"type":"rule","color":"#663399","strokeWidth":5},
"encoding":{"x":{"field":"A","type":"quantitative","scale":{"domain":[215.5,226.5],"nice":false,"zero":false},"axis":{"values":[216,218,220,222,224,226],"format":"d","title":"Mass number","labelPadding":8,"titlePadding":4,"domain":true,"domainColor":"black","domainWidth":3}},"y":{"field":"lo","type":"quantitative","scale":{"domain":[0,2],"nice":false,"zero":false},"axis":{"values":[0,1.5],"format":".1f","title":"3⁻\u2009→\u20092⁺","domain":true,"domainColor":"black","domainWidth":3}},"y2":{"field":"hi"}}},
{"data":{"name":"ex"},"transform":[{"filter":"datum.p=='E3d'"},{"fold":["lo","hi"],"as":["k","v"]}],"mark":{"type":"tick","orient":"horizontal","color":"#663399","size":38,"thickness":5,"opacity":1},
"encoding":{"x":{"field":"A","type":"quantitative","scale":{"domain":[215.5,226.5],"nice":false,"zero":false},"axis":{"values":[216,218,220,222,224,226],"format":"d","title":"Mass number","labelPadding":8,"titlePadding":4,"domain":true,"domainColor":"black","domainWidth":3}},"y":{"field":"v","type":"quantitative","scale":{"domain":[0,2],"nice":false,"zero":false},"axis":{"values":[0,1.5],"format":".1f","title":"3⁻\u2009→\u20092⁺","domain":true,"domainColor":"black","domainWidth":3}}}},
{"data":{"name":"ex"},"transform":[{"filter":"datum.p=='E3d'"}],"mark":{"type":"point","shape":"circle","filled":true,"size":530,"color":"#663399","opacity":1},
"encoding":{"x":{"field":"A","type":"quantitative","scale":{"domain":[215.5,226.5],"nice":false,"zero":false},"axis":{"values":[216,218,220,222,224,226],"format":"d","title":"Mass number","labelPadding":8,"titlePadding":4,"domain":true,"domainColor":"black","domainWidth":3}},"y":{"field":"B","type":"quantitative","scale":{"domain":[0,2],"nice":false,"zero":false},"axis":{"values":[0,1.5],"format":".1f","title":"3⁻\u2009→\u20092⁺","domain":true,"domainColor":"black","domainWidth":3}}}},
{"data":{"values":[{}]},"mark":{"type":"rule","color":"black","strokeWidth":3},
"encoding":{"x":{"datum":226.5,"type":"quantitative","scale":{"domain":[215.5,226.5],"nice":false,"zero":false},"axis":{"values":[216,218,220,222,224,226],"format":"d","title":"Mass number","labelPadding":8,"titlePadding":4,"domain":true,"domainColor":"black","domainWidth":3}},"y":{"datum":0,"type":"quantitative","scale":{"domain":[0,2],"nice":false,"zero":false},"axis":{"values":[0,1.5],"format":".1f","title":"3⁻\u2009→\u20092⁺","domain":true,"domainColor":"black","domainWidth":3}},"y2":{"datum":2}}},
{"data":{"values":[{}]},"mark":{"type":"rule","color":"black","strokeWidth":2.5},
"encoding":{"x":{"datum":215.31,"type":"quantitative","scale":{"domain":[215.5,226.5],"nice":false,"zero":false},"axis":{"values":[216,218,220,222,224,226],"format":"d","title":"Mass number","labelPadding":8,"titlePadding":4,"domain":true,"domainColor":"black","domainWidth":3}},"x2":{"datum":215.69},"y":{"datum":1.953,"type":"quantitative","scale":{"domain":[0,2],"nice":false,"zero":false},"axis":{"values":[0,1.5],"format":".1f","title":"3⁻\u2009→\u20092⁺","domain":true,"domainColor":"black","domainWidth":3}},"y2":{"datum":2.047}}},
{"data":{"values":[{}]},"mark":{"type":"rule","color":"black","strokeWidth":2.5},
"encoding":{"x":{"datum":226.31,"type":"quantitative","scale":{"domain":[215.5,226.5],"nice":false,"zero":false},"axis":{"values":[216,218,220,222,224,226],"format":"d","title":"Mass number","labelPadding":8,"titlePadding":4,"domain":true,"domainColor":"black","domainWidth":3}},"x2":{"datum":226.69},"y":{"datum":1.953,"type":"quantitative","scale":{"domain":[0,2],"nice":false,"zero":false},"axis":{"values":[0,1.5],"format":".1f","title":"3⁻\u2009→\u20092⁺","domain":true,"domainColor":"black","domainWidth":3}},"y2":{"datum":2.047}}}
]}
]}
]}
]
}
